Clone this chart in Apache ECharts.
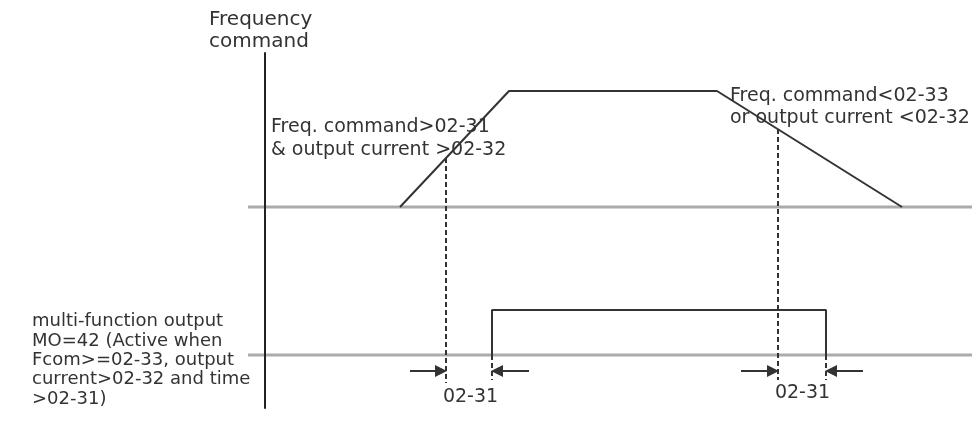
<!DOCTYPE html>
<html>
<head>
<meta charset="utf-8">
<style>
  html, body { margin: 0; padding: 0; background: #ffffff; }
  #chart { width: 978px; height: 423px; }
</style>
<script src="https://cdn.jsdelivr.net/npm/echarts@6/dist/echarts.min.js"></script>
</head>
<body>
<div id="chart"></div>
<script>
// ---- data (time units on x, signal level on y) ----
const timeRange = [-1.7, 70.7];
const levelRange = [0, 35.5];
const freqBaseline = 20.1;
const moBaseline = 5.3;
// Frequency command trapezoid
const freqTime = [13.5, 24.4, 45.2, 63.7];
const freqLevel = [20.1, 31.7, 31.7, 20.1];
// MO=42 output pulse
const moTime = [22.7, 22.7, 56.1, 56.1];
const moLevel = [5.3, 9.8, 9.8, 5.3];
// Threshold crossing markers (dashed verticals)
const markerTime = [18.1, 51.3];
const markerTop = [25.0, 27.9];
const markerBottom = [2.5, 2.8];
// Pulse edge ticks below baseline
const edgeTime = [22.7, 56.1];
const edgeBottom = 2.8;
// Delay arrows (02-31)
const arrowLevel = 3.7;
const arrowFrom = [14.5, 26.4, 47.6, 59.8];
const arrowTo = [17.6, 23.2, 50.8, 56.6];
const delayLabel = '02-31';

const chart = echarts.init(document.getElementById('chart'), null, { renderer: 'canvas' });

const dark = '#333333';
const font = '"DejaVu Sans", sans-serif';

const series = [];
// baselines
[freqBaseline, moBaseline].forEach(function (lv) {
  series.push({
    type: 'line', silent: true, symbol: 'none', z: 1,
    lineStyle: { color: '#ababab', width: 3 },
    data: [[timeRange[0], lv], [timeRange[1], lv]]
  });
});
// frequency command
series.push({
  type: 'line', symbol: 'none', z: 3,
  lineStyle: { color: dark, width: 2 },
  data: freqTime.map(function (t, i) { return [t, freqLevel[i]]; })
});
// MO output
series.push({
  type: 'line', symbol: 'none', z: 3,
  lineStyle: { color: dark, width: 2 },
  data: moTime.map(function (t, i) { return [t, moLevel[i]]; })
});
// dashed markers
markerTime.forEach(function (t, i) {
  series.push({
    type: 'line', symbol: 'none', z: 3,
    lineStyle: { color: dark, width: 2, type: [5, 3] },
    data: [[t, markerTop[i]], [t, markerBottom[i]]]
  });
});
edgeTime.forEach(function (t) {
  series.push({
    type: 'line', symbol: 'none', z: 3,
    lineStyle: { color: dark, width: 2, type: [5, 3] },
    data: [[t, moBaseline], [t, edgeBottom]]
  });
});
// arrows
series.push({
  type: 'lines', coordinateSystem: 'cartesian2d', z: 4,
  symbol: ['none', 'triangle'], symbolSize: [10, 12],
  lineStyle: { color: dark, width: 2, opacity: 1, curveness: 0 },
  itemStyle: { color: dark },
  data: arrowFrom.map(function (f, i) {
    return { coords: [[f, arrowLevel], [arrowTo[i], arrowLevel]] };
  })
});

chart.setOption({
  animation: false,
  backgroundColor: '#ffffff',
  grid: { left: 248, right: 6, top: 53, bottom: 15, containLabel: false },
  xAxis: {
    type: 'value', min: timeRange[0], max: timeRange[1],
    axisLine: { show: false }, axisTick: { show: false },
    axisLabel: { show: false }, splitLine: { show: false }
  },
  yAxis: {
    type: 'value', min: levelRange[0], max: levelRange[1], z: 5,
    axisLine: { show: true, onZero: true, lineStyle: { color: '#222222', width: 2 } },
    axisTick: { show: false }, axisLabel: { show: false }, splitLine: { show: false }
  },
  series: series,
  graphic: [
    { type: 'text', left: 209, top: 8.5, z: 10,
      style: { text: 'Frequency\ncommand', font: '20px ' + font, lineHeight: 22, fill: dark } },
    { type: 'text', left: 271, top: 115.2, z: 10,
      style: { text: 'Freq. command>02-31\n& output current >02-32', font: '19px ' + font, lineHeight: 23, fill: dark } },
    { type: 'text', left: 730, top: 84.3, z: 10,
      style: { text: 'Freq. command<02-33\nor output current <02-32', font: '19px ' + font, lineHeight: 22.7, fill: dark } },
    { type: 'text', left: 32, top: 312, z: 10,
      style: { text: 'multi-function output\nMO=42 (Active when\nFcom>=02-33, output\ncurrent>02-32 and time\n>02-31)', font: '18px ' + font, lineHeight: 19.3, fill: dark } },
    { type: 'text', x: 470.5, y: 396.7, z: 10,
      style: { text: delayLabel, font: '19px ' + font, fill: dark, textAlign: 'center', textVerticalAlign: 'middle' } },
    { type: 'text', x: 802.5, y: 393.3, z: 10,
      style: { text: delayLabel, font: '19px ' + font, fill: dark, textAlign: 'center', textVerticalAlign: 'middle' } }
  ]
});
</script>
</body>
</html>
